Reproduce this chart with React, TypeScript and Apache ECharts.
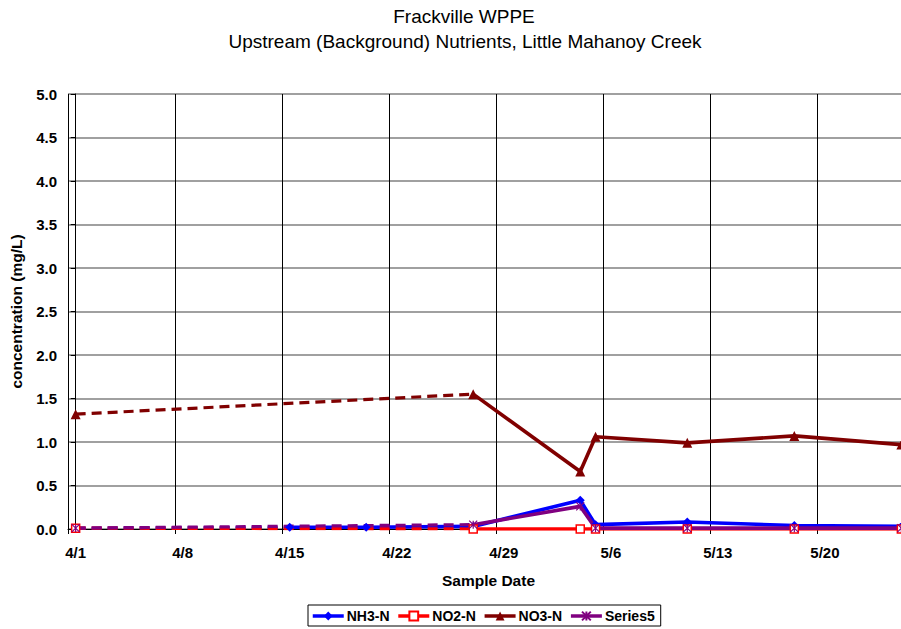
import React, { useEffect, useRef } from "react";
import * as echarts from "echarts";

// Sample dates (month/day) shared by all parameters
const sampleDates = ["4/1", "4/15", "4/20", "4/27", "5/4", "5/5", "5/11", "5/18", "5/25"];

// Concentrations in mg/L; null = not sampled on that date
const nh3N = [0.01, 0.02, 0.02, 0.03, 0.33, 0.05, 0.08, 0.04, 0.03];
const no2N = [0.01, null, null, 0.0, 0.0, 0.0, 0.0, 0.0, 0.0];
const no3N = [1.32, null, null, 1.55, 0.66, 1.06, 0.99, 1.07, 0.97];
const series5 = [0.01, null, null, 0.05, 0.26, 0.01, 0.01, 0.01, 0.01];

// Axis tick labels (weekly)
const weekLabels = ["4/1", "4/8", "4/15", "4/22", "4/29", "5/6", "5/13", "5/20"];

const FONT = "'Liberation Sans', Arial, Helvetica, sans-serif";

// day offset from April 1st
const dayOf = (md: string) => {
  const [m, d] = md.split("/").map(Number);
  return m === 4 ? d - 1 : 30 + d - 1;
};

const toPoints = (vals: (number | null)[]) =>
  sampleDates
    .map((s, i) => (vals[i] == null ? null : [dayOf(s), vals[i] as number]))
    .filter((p) => p !== null) as number[][];

const ASTERISK = "path://M0,0L10,10M10,0L0,10M5,0L5,10";

type Def = {
  name: string;
  values: (number | null)[];
  color: string;
  symbol: string;
  symbolSize: number;
  fill: string;
  borderWidth: number;
};

const defs: Def[] = [
  { name: "NH3-N", values: nh3N, color: "#0000FF", symbol: "diamond", symbolSize: 9, fill: "#0000FF", borderWidth: 0 },
  { name: "NO2-N", values: no2N, color: "#FF0000", symbol: "rect", symbolSize: 8, fill: "#FFFFFF", borderWidth: 1.5 },
  { name: "NO3-N", values: no3N, color: "#800000", symbol: "triangle", symbolSize: 10, fill: "#800000", borderWidth: 0 },
  { name: "Series5", values: series5, color: "#800080", symbol: ASTERISK, symbolSize: 8, fill: "#800080", borderWidth: 1.2 },
];

// chart canvas is a little wider than the visible frame; the plot runs past the right edge
const CHART_W = 912;
const CHART_H = 629;

export default function App() {
  const ref = useRef<HTMLDivElement>(null);

  useEffect(() => {
    if (!ref.current) return;
    const chart = echarts.init(ref.current, null, { renderer: "svg" });

    const lineSeries: any[] = [];
    const markerSeries: any[] = [];
    defs.forEach((d) => {
      const pts = toPoints(d.values);
      // first leg bridges the gap in sampling and is drawn dashed
      lineSeries.push({
        type: "line",
        name: d.name + " gap",
        data: pts.slice(0, 2),
        symbol: "none",
        lineStyle: { color: d.color, width: 3.2, type: [10, 6] },
        z: 2,
        silent: true,
      });
      lineSeries.push({
        type: "line",
        name: d.name,
        data: pts.slice(1),
        symbol: d.symbol,
        symbolSize: d.symbolSize,
        showSymbol: false,
        itemStyle: { color: d.fill, borderColor: d.color, borderWidth: d.borderWidth },
        lineStyle: { color: d.color, width: 3.6 },
        z: 2,
      });
      markerSeries.push({
        type: "scatter",
        name: d.name + " points",
        data: pts,
        symbol: d.symbol,
        symbolSize: d.symbolSize,
        itemStyle: { color: d.fill, borderColor: d.color, borderWidth: d.borderWidth, opacity: 1 },
        z: 3,
      });
    });

    const labelDays = weekLabels.map(dayOf);

    chart.setOption({
      animation: false,
      backgroundColor: "#FFFFFF",
      textStyle: { fontFamily: FONT },
      graphic: [
        {
          type: "text",
          x: 464,
          y: 16,
          style: {
            text: "Frackville WPPE",
            font: `19px ${FONT}`,
            fill: "#000",
            textAlign: "center",
            textVerticalAlign: "middle",
          },
        },
        {
          type: "text",
          x: 465,
          y: 41,
          style: {
            text: "Upstream (Background) Nutrients, Little Mahanoy Creek",
            font: `19px ${FONT}`,
            fill: "#000",
            textAlign: "center",
            textVerticalAlign: "middle",
          },
        },
      ],
      legend: {
        data: defs.map((d) => d.name),
        left: 308,
        top: 605,
        orient: "horizontal",
        padding: [4, 6, 3, 3],
        itemGap: 7,
        itemWidth: 31,
        itemHeight: 11,
        borderColor: "#000",
        borderWidth: 1,
        lineStyle: { width: 3.5 },
        textStyle: { fontFamily: FONT, fontSize: 14, fontWeight: "bold", color: "#000", padding: [0, 0, 0, -2] },
      },
      grid: { left: 67, top: 94, right: CHART_W - 909, bottom: 100, containLabel: false },
      xAxis: {
        type: "value",
        min: -0.5,
        max: 54.5,
        interval: 7,
        name: "Sample Date",
        nameLocation: "middle",
        nameGap: 43,
        nameTextStyle: { fontFamily: FONT, fontSize: 15.5, fontWeight: "bold", color: "#000" },
        axisLine: { show: true, lineStyle: { color: "#000", width: 1 } },
        axisTick: { show: true, length: 5, lineStyle: { color: "#000" } },
        splitLine: { show: true, lineStyle: { color: "#000", width: 1 } },
        axisLabel: {
          customValues: labelDays,
          formatter: (v: number) => weekLabels[labelDays.indexOf(Math.round(v))] ?? "",
          fontFamily: FONT,
          fontSize: 15,
          fontWeight: "bold",
          color: "#000",
          margin: 16,
        },
      },
      yAxis: {
        type: "value",
        min: 0,
        max: 5,
        interval: 0.5,
        name: "concentration (mg/L)",
        nameLocation: "middle",
        nameGap: 44,
        nameRotate: 90,
        nameTextStyle: { fontFamily: FONT, fontSize: 15.5, fontWeight: "bold", color: "#000" },
        axisLine: { show: true, lineStyle: { color: "#000", width: 1 } },
        axisTick: { show: true, length: 5, lineStyle: { color: "#000" } },
        splitLine: { show: true, lineStyle: { color: "#808080", width: 1.5 } },
        axisLabel: {
          formatter: (v: number) => v.toFixed(1),
          fontFamily: FONT,
          fontSize: 15,
          fontWeight: "bold",
          color: "#000",
          margin: 11,
        },
      },
      series: [...lineSeries, ...markerSeries],
    });

    return () => chart.dispose();
  }, []);

  return (
    <div
      style={{
        position: "fixed",
        left: 0,
        top: 0,
        width: 901,
        height: 629,
        overflow: "hidden",
        background: "#fff",
      }}
    >
      <div ref={ref} style={{ width: CHART_W, height: CHART_H }} />
    </div>
  );
}
